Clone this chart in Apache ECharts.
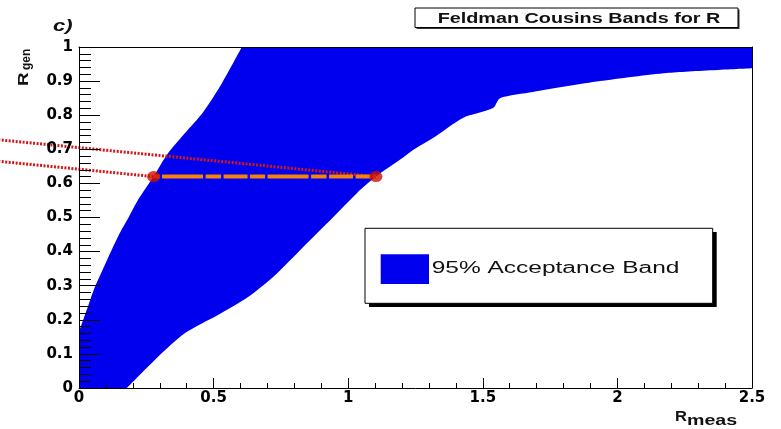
<!DOCTYPE html>
<html><head><meta charset="utf-8">
<script src="https://cdn.jsdelivr.net/npm/echarts@6/dist/echarts.min.js"></script>
<style>html,body{margin:0;padding:0;background:#fff}#c{width:781px;height:429px}</style>
</head><body><div id="c"></div>
<script>
// Left (upper) boundary of the 95% acceptance band: R_meas, R_gen
const upperX = [0, 0.033, 0.059, 0.104, 0.152, 0.186, 0.219, 0.277, 0.331, 0.394, 0.461, 0.531, 0.605];
const upperY = [0.165, 0.238, 0.296, 0.375, 0.455, 0.503, 0.551, 0.620, 0.689, 0.748, 0.809, 0.894, 1.0];
// Right (lower) boundary of the band
const lowerX = [0.178, 0.293, 0.394, 0.516, 0.628, 0.728, 0.832, 0.944, 1.033, 1.103, 1.192, 1.241, 1.315, 1.426, 1.538, 1.564, 1.686, 1.935, 2.184, 2.5];
const lowerY = [0, 0.091, 0.161, 0.214, 0.267, 0.331, 0.413, 0.501, 0.572, 0.620, 0.669, 0.698, 0.733, 0.792, 0.821, 0.850, 0.868, 0.900, 0.924, 0.938];
// Confidence interval at the measured value
const intervalX = [0.277, 1.103];
const intervalY = [0.620, 0.620];
// Red dotted guide lines
const guideUpperX = [-0.3, 1.103];
const guideUpperY = [0.728, 0.620];
const guideLowerX = [-0.3, 0.277];
const guideLowerY = [0.665, 0.620];
// Axis ranges
const xRange = [0, 2.5];
const yRange = [0, 1];
const xStep = 0.5, yStep = 0.1;

const zip = (a, b) => a.map((v, i) => [v, b[i]]);
const upperLine = zip(upperX, upperY);
// flat part of the band along the top of the frame (tiny overlap hides the anti-aliasing seam)
const topLine = [[upperX[upperX.length - 1] - 0.003, yRange[1]], [xRange[1], yRange[1]]];
const lowerLine = zip(lowerX, lowerY);

const BLUE = '#0000ee';
const labelFont = { fontFamily: 'DejaVu Sans', fontWeight: 'bold', fontSize: 15, color: '#000' };

function guideSeries(pts) {
  return {
    type: 'custom', coordinateSystem: 'cartesian2d', xAxisIndex: 0, yAxisIndex: 0,
    silent: true, clip: false, z: 3, data: [[0, 0]],
    renderItem: function (params, api) {
      return {
        type: 'polyline', shape: { points: pts.map(p => api.coord(p)) },
        style: { stroke: '#d01818', lineWidth: 3, lineDash: [2, 1.5], fill: null }
      };
    }
  };
}

const chart = echarts.init(document.getElementById('c'), null, { renderer: 'canvas' });
chart.setOption({
  animation: false,
  backgroundColor: '#fff',
  grid: { left: 79, right: 29, top: 47, bottom: 41, containLabel: false, outerBoundsMode: 'none' },
  xAxis: [{
    type: 'value', min: xRange[0], max: xRange[1], interval: xStep, position: 'bottom', z: 5,
    axisLine: { show: true, onZero: false, lineStyle: { color: '#000', width: 1 } },
    axisTick: { show: true, inside: true, length: 10, lineStyle: { color: '#000', width: 1 } },
    minorTick: { show: true, splitNumber: 5, length: 5, lineStyle: { color: '#000', width: 1 } },
    splitLine: { show: false }, minorSplitLine: { show: false },
    axisLabel: Object.assign({ margin: 3 }, labelFont)
  }, {
    type: 'value', min: xRange[0], max: xRange[1], position: 'top', z: 5,
    axisLine: { show: true, onZero: false, lineStyle: { color: '#000', width: 1 } },
    axisTick: { show: false }, axisLabel: { show: false }, splitLine: { show: false }
  }],
  yAxis: [{
    type: 'value', min: yRange[0], max: yRange[1], interval: yStep, position: 'left', z: 5,
    axisLine: { show: true, onZero: false, lineStyle: { color: '#000', width: 1 } },
    axisTick: { show: true, inside: true, length: 21, lineStyle: { color: '#000', width: 1 } },
    minorTick: { show: true, splitNumber: 5, length: 12, lineStyle: { color: '#000', width: 1 } },
    splitLine: { show: false }, minorSplitLine: { show: false },
    axisLabel: Object.assign({ margin: 6 }, labelFont)
  }, {
    type: 'value', min: yRange[0], max: yRange[1], position: 'right', z: 5,
    axisLine: { show: true, onZero: false, lineStyle: { color: '#000', width: 1 } },
    axisTick: { show: false }, axisLabel: { show: false }, splitLine: { show: false }
  }],
  series: [{
    // band: area under the left boundary, in blue
    type: 'line', name: '95% Acceptance Band', data: upperLine, symbol: 'none', silent: true, z: 1,
    smooth: 0.25,
    lineStyle: { width: 0 }, areaStyle: { color: BLUE, opacity: 1, origin: 'start' }
  }, {
    // band continues up to the top of the frame
    type: 'line', data: topLine, symbol: 'none', silent: true, z: 1,
    lineStyle: { width: 0 }, areaStyle: { color: BLUE, opacity: 1, origin: 'start' }
  }, {
    // region beyond the right boundary, cleared back to white
    type: 'line', data: lowerLine, symbol: 'none', silent: true, z: 2,
    smooth: 0.25,
    lineStyle: { width: 0 }, areaStyle: { color: '#fff', opacity: 1, origin: 'start' }
  },
    guideSeries(zip(guideUpperX, guideUpperY)),
    guideSeries(zip(guideLowerX, guideLowerY)),
  {
    type: 'line', data: zip(intervalX, intervalY), symbol: 'none', silent: true, z: 4,
    lineStyle: { color: '#f5820a', width: 4, type: [41, 2.5, 15.5, 2.5, 24, 2.5, 15, 2.5], dashOffset: 97 }
  }, {
    type: 'scatter', data: zip(intervalX, intervalY), symbol: 'circle', symbolSize: [13, 11], silent: true, z: 6,
    itemStyle: { color: '#d01000' }
  }],
  graphic: [
    { type: 'text', z: 100, x: 53, y: 26, scaleX: 1.3, style: { text: 'c)', font: 'italic bold 17px "Liberation Sans"', fill: '#111', verticalAlign: 'middle' } },
    { type: 'rect', z: 100, shape: { x: 416.5, y: 9.5, width: 323, height: 19.5 }, style: { fill: '#333' } },
    { type: 'rect', z: 101, shape: { x: 415, y: 8, width: 323, height: 19.5 }, style: { fill: '#fff', stroke: '#000', lineWidth: 1 } },
    { type: 'text', z: 102, x: 579, y: 18.5, scaleX: 1.32, style: { text: 'Feldman Cousins Bands for R', font: 'bold 15px "Liberation Sans"', fill: '#111', align: 'center', verticalAlign: 'middle' } },
    { type: 'rect', z: 100, shape: { x: 369, y: 232, width: 347.7, height: 75 }, style: { fill: '#000' } },
    { type: 'rect', z: 101, shape: { x: 365, y: 228.3, width: 347.7, height: 75 }, style: { fill: '#fff', stroke: '#000', lineWidth: 1 } },
    { type: 'rect', z: 102, shape: { x: 380.7, y: 254.3, width: 48.3, height: 29.7 }, style: { fill: BLUE } },
    { type: 'text', z: 102, x: 431.7, y: 269, scaleX: 1.53, style: { text: '95% Acceptance Band', font: '16px "Liberation Sans"', fill: '#111', verticalAlign: 'middle' } },
    { type: 'text', z: 100, x: 23.5, y: 86, rotation: Math.PI / 2, scaleX: 1.25, style: { text: 'R', font: 'bold 15px "Liberation Sans"', fill: '#111', verticalAlign: 'middle' } },
    { type: 'text', z: 100, x: 27, y: 70, rotation: Math.PI / 2, style: { text: 'gen', font: 'bold 12px "Liberation Sans"', fill: '#111', verticalAlign: 'middle' } },
    { type: 'text', z: 100, x: 675, y: 416.5, scaleX: 1.1, style: { text: 'R', font: 'bold 15px "Liberation Sans"', fill: '#111', verticalAlign: 'middle' } },
    { type: 'text', z: 100, x: 687, y: 421, scaleX: 1.4, style: { text: 'meas', font: 'bold 14px "Liberation Sans"', fill: '#111', verticalAlign: 'middle' } }
  ]
});
</script>
</body></html>
